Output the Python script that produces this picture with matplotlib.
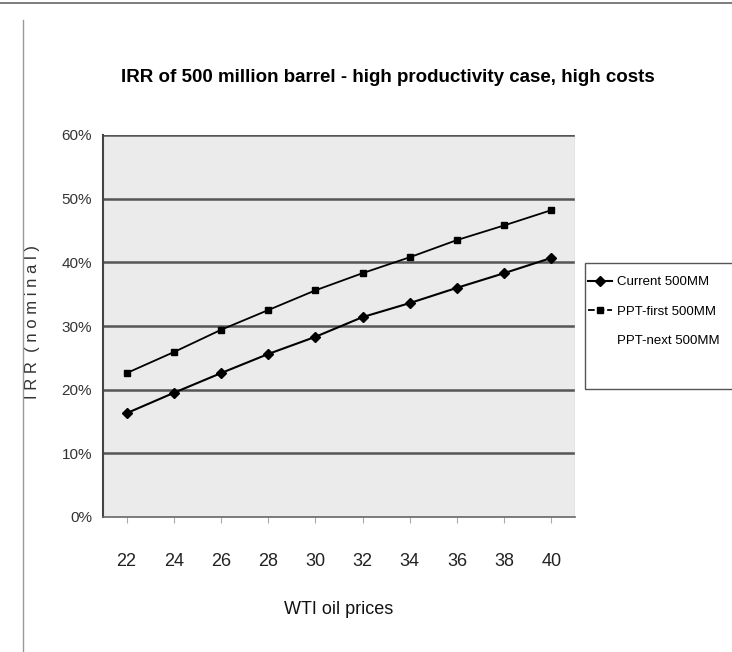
import numpy as np
import matplotlib.pyplot as plt
from matplotlib.lines import Line2D
from matplotlib.patches import Rectangle

# oil price cases (WTI, $/bbl)
prices = ["22", "24", "26", "28", "30", "32", "34", "36", "38", "40"]

# IRR (nominal), in percent
current = [16.3, 19.5, 22.6, 25.6, 28.3, 31.4, 33.6, 36.0, 38.3, 40.7]
ppt_first = [22.6, 25.9, 29.4, 32.5, 35.6, 38.3, 40.8, 43.5, 45.8, 48.2]

yticks = [0, 10, 20, 30, 40, 50, 60]

plt.rcParams["font.family"] = ["Liberation Sans", "DejaVu Sans"]

W, H = 732, 652
fig = plt.figure(figsize=(W / 100, H / 100), dpi=100)
ax = fig.add_axes([103 / W, 1 - 517 / H, 472 / W, 382 / H])
ax.set_facecolor("#ebebeb")

x = np.arange(len(prices))
ax.plot(x, current, color="black", lw=1.5, marker="D", ms=5,
        label="Current 500MM", zorder=3)
ax.plot(x, ppt_first, color="black", lw=1.3, marker="s", ms=5,
        mfc="black", label="PPT-first 500MM", zorder=3)

ax.set_xlim(-0.5, len(prices) - 0.5)
ax.set_ylim(0, 60)
ax.set_yticks(yticks)
ax.set_yticklabels([f"{v}%" for v in yticks], fontsize=11, color="#333333")
ax.set_xticks(x)
ax.set_xticklabels(prices, fontsize=13, color="#222222")
ax.tick_params(axis="y", length=0, pad=8)
ax.tick_params(axis="x", length=4, color="#aaaaaa", direction="out", pad=22)

for v in yticks[1:]:
    ax.axhline(v, color="#555555", lw=1.8, zorder=1)

for s in ["top", "right"]:
    ax.spines[s].set_visible(False)
ax.spines["left"].set_color("#444444")
ax.spines["left"].set_linewidth(1.5)
ax.spines["bottom"].set_color("#666666")
ax.spines["bottom"].set_linewidth(1.2)
ax.axvline(len(prices) - 0.5, color="#cccccc", lw=1.0)

ax.set_xlabel("WTI oil prices", fontsize=13, labelpad=22, color="#111111")
ax.set_ylabel("I R R  ( n o m i n a l )", fontsize=12, color="#333333")
ax.yaxis.set_label_coords(-0.133, 0.51)

fig.text(388 / W, 1 - 77 / H,
         "IRR of 500 million barrel - high productivity case, high costs",
         ha="center", va="center", fontsize=13.5, fontweight="bold")

handles = [
    Line2D([], [], color="black", lw=1.5, marker="D", ms=5),
    Line2D([], [], color="black", lw=1.3, ls="--", marker="s", ms=5),
    Line2D([], [], color="none"),
]
labels = ["Current 500MM", "PPT-first 500MM", "PPT-next 500MM"]
fig.legend(handles, labels, loc="upper left",
           bbox_to_anchor=(588 / W, 1 - 276 / H),
           fontsize=9.5, frameon=False,
           labelspacing=1.3, handlelength=1.8,
           handletextpad=0.4, borderaxespad=0, borderpad=0)
fig.add_artist(Rectangle((585 / W, 1 - 389 / H), 160 / W, 126 / H,
                         transform=fig.transFigure, fill=False,
                         edgecolor="#555555", lw=1.0, clip_on=False))

# chart area border
fig.add_artist(Line2D([0.0, 1.0], [0.995, 0.995], color="#666666", lw=1.2))
fig.add_artist(Line2D([23 / W, 23 / W], [0.0, 0.97], color="#999999", lw=1.0))

fig.savefig("out.png", dpi=100)
